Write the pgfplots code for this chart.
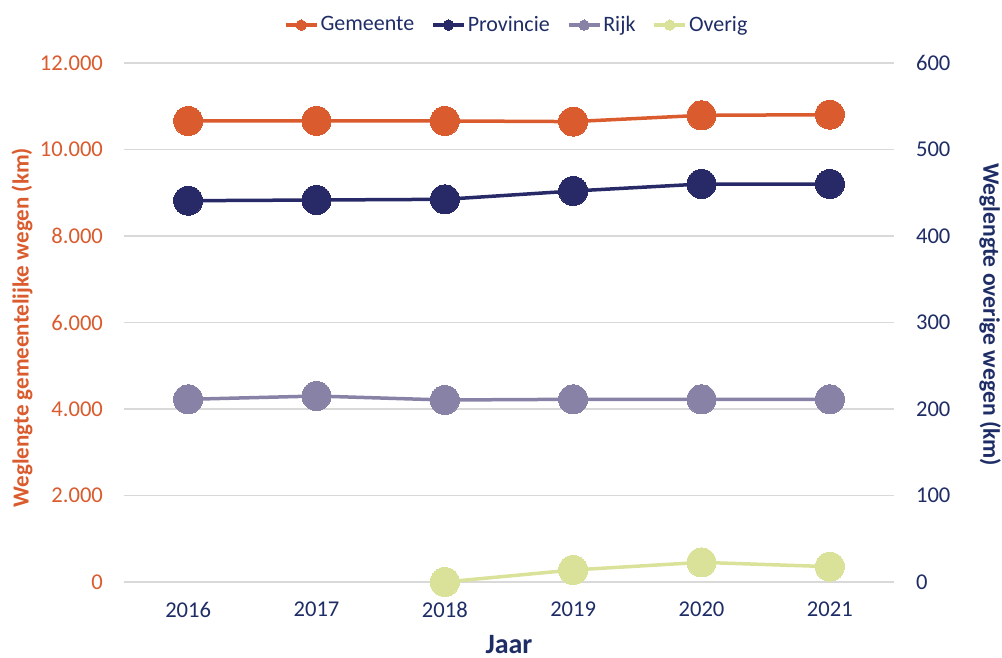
\documentclass[border=0pt]{standalone}
\usepackage{fontspec}
\setmainfont{Carlito}
\usepackage{pgfplots}
\pgfplotsset{compat=1.18}
\definecolor{cGem}{HTML}{DA5B2D}
\definecolor{cProv}{HTML}{282A68}
\definecolor{cRijk}{HTML}{8882A6}
\definecolor{cOv}{HTML}{DAE29A}
\definecolor{cTxt}{HTML}{1F2D66}
\definecolor{cGrid}{HTML}{D9D9D9}
\begin{document}
\begin{tikzpicture}
\useasboundingbox (-62pt,-38pt) rectangle (439pt,291pt);
\pgfplotsset{
  common/.style={
    width=385pt, height=259.5pt, scale only axis,
    at={(0pt,0pt)}, anchor=south west,
    xmin=-0.5, xmax=5.5,
    xtick={0,1,2,3,4,5},
    xticklabels={2016,2017,2018,2019,2020,2021},
    major tick length=0pt,
    tick style={draw=none},
    /pgf/number format/assume math mode=true,
    ticklabel style={font=\fontsize{11.3}{13}\selectfont},
    legend image code/.code={\draw[mark repeat=2,mark phase=2,#1,mark size=2.6pt] plot coordinates {(0pt,0pt) (7.75pt,0pt) (15.5pt,0pt)};},
  },
  ser/.style={color=#1, line width=1.75pt, mark=*, mark size=7.25pt, mark options={fill=#1, draw=#1, line width=0pt}},
}
\begin{axis}[common,
  axis x line=none, axis y line*=left,
  axis line style={draw=none},
  ymin=0, ymax=12000, ytick={0,2000,4000,6000,8000,10000,12000},
  scaled y ticks=false,
  yticklabel={\pgfmathprintnumber[fixed,precision=0,1000 sep={.},assume math mode=true]{\tick}},
  ymajorgrids, grid style={cGrid, line width=0.6pt},
  yticklabel style={color=cGem, xshift=-7pt},
  ylabel={Weglengte gemeentelijke wegen (km)},
  ylabel style={at={(axis description cs:-0.1325,0.49)}, anchor=center, rotate=0, color=cGem, font=\fontsize{11.5}{13}\selectfont\bfseries},
]
\addplot[ser=cGem] coordinates {(0,10660) (1,10660) (2,10660) (3,10645) (4,10790) (5,10805)};
\end{axis}
\begin{axis}[common,
  axis y line*=right, axis x line*=bottom,
  axis line style={draw=none},
  ymin=0, ymax=600, ytick={0,100,200,300,400,500,600},
  yticklabel style={color=cTxt, xshift=7.5pt},
  xticklabel style={color=cTxt, yshift=-6.5pt},
  ylabel={Weglengte overige wegen (km)},
  ylabel style={at={(axis description cs:1.125,0.515)}, anchor=center, rotate=180, color=cTxt, font=\fontsize{11.8}{13}\selectfont\bfseries},
  xlabel={Jaar},
  xlabel style={at={(axis description cs:0.5,-0.12)}, anchor=center, color=cTxt, font=\fontsize{14}{16}\selectfont\bfseries},
  legend columns=4,
  legend style={at={(axis description cs:0.51,1.073)}, anchor=center, draw=none, fill=none, font=\fontsize{11}{13}\selectfont, text=cTxt, /tikz/every even column/.append style={column sep=7.5pt}, inner sep=0pt, nodes={inner sep=1pt}, cells={anchor=west}},
]
\addlegendimage{ser=cGem}
\addlegendentry{Gemeente}
\addplot[ser=cProv] coordinates {(0,440.8) (1,441.6) (2,442.4) (3,452) (4,460.1) (5,460.1)};
\addlegendentry{Provincie}
\addplot[ser=cRijk] coordinates {(0,211.2) (1,215) (2,210.4) (3,211.2) (4,211.2) (5,211.2)};
\addlegendentry{Rijk}
\addplot[ser=cOv] coordinates {(2,0) (3,13.9) (4,22.7) (5,17.7)};
\addlegendentry{Overig}
\end{axis}
\end{tikzpicture}
\end{document}
